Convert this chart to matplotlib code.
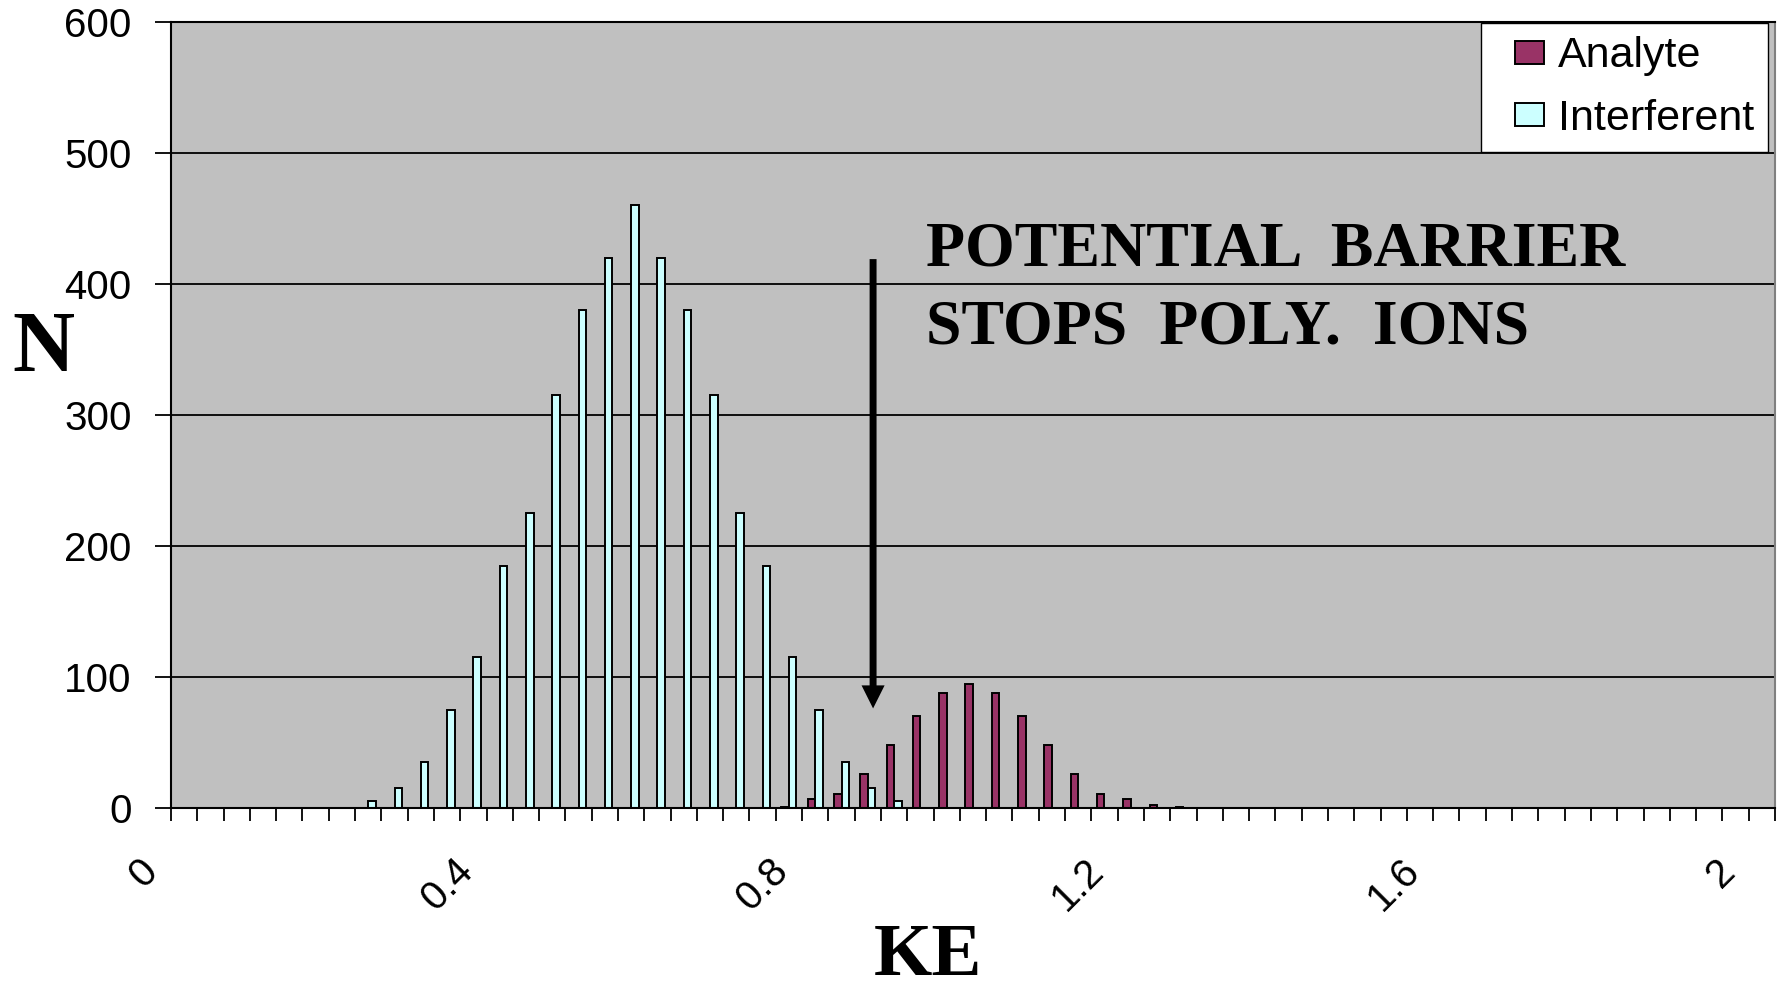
import numpy as np
import matplotlib
matplotlib.use('Agg')
import matplotlib.pyplot as plt
from matplotlib.patches import Rectangle
from matplotlib.container import BarContainer
from matplotlib.legend_handler import HandlerPatch, update_from_first_child
from matplotlib.transforms import ScaledTranslation

# KE categories (61 bins from 0 to 2)
ke = np.round(np.linspace(0, 2, 61), 4)

analyte = [0, 0, 0, 0, 0, 0, 0, 0, 0, 0,
           0, 0, 0, 0, 0, 0, 0, 0, 0, 0,
           0, 0, 0, 1, 7, 11, 26, 48, 70, 88,
           95, 88, 70, 48, 26, 11, 7, 2, 1, 0,
           0, 0, 0, 0, 0, 0, 0, 0, 0, 0,
           0, 0, 0, 0, 0, 0, 0, 0, 0, 0,
           0]
interferent = [0, 0, 0, 0, 0, 0, 0, 5, 15, 35,
               75, 115, 185, 225, 315, 380, 420, 460, 420, 380,
               315, 225, 185, 115, 75, 35, 15, 5, 0, 0,
               0, 0, 0, 0, 0, 0, 0, 0, 0, 0,
               0, 0, 0, 0, 0, 0, 0, 0, 0, 0,
               0, 0, 0, 0, 0, 0, 0, 0, 0, 0,
               0]
label_idx = [0, 12, 24, 36, 48, 60]
label_txt = ['0', '0.4', '0.8', '1.2', '1.6', '2']
y_ticks = [0, 100, 200, 300, 400, 500, 600]

plt.rcParams['font.family'] = 'Liberation Sans'

W, H = 1785, 990
fig = plt.figure(figsize=(W / 100, H / 100), dpi=100)
fig.patch.set_facecolor('white')
ax = fig.add_axes([171 / W, 1 - 808 / H, (1775 - 171) / W, (808 - 22) / H])
ax.set_facecolor('#C0C0C0')

x = np.arange(len(ke))
bw = 0.286
bars_a = ax.bar(x - bw / 2, analyte, bw, color='#993366', edgecolor='black', linewidth=1.4, label='Analyte')
bars_i = ax.bar(x + bw / 2, interferent, bw, color='#CCFFFF', edgecolor='black', linewidth=1.4, label='Interferent')

ax.set_xlim(-0.5, len(ke) - 0.5)
ax.set_ylim(0, 600)
ax.set_yticks(y_ticks)
ax.yaxis.grid(True, color='black', linewidth=1.3)
ax.set_axisbelow(True)

# category boundary ticks + rotated labels
ax.set_xticks(np.arange(-0.5, len(ke)), minor=True)
ax.set_xticks(label_idx, labels=label_txt)
ax.tick_params(axis='x', which='minor', length=9.6, width=1.3, color='black')
ax.tick_params(axis='x', which='major', length=0, pad=41, labelsize=29)
ax.tick_params(axis='y', length=11.3, width=1.3, pad=17, labelsize=29)
shift = ScaledTranslation(-0.33, 0, fig.dpi_scale_trans)
for lab in ax.get_xticklabels():
    lab.set_rotation(45)
    lab.set_ha('right')
    lab.set_va('center')
    lab.set_rotation_mode('anchor')
    lab.set_transform(lab.get_transform() + shift)

for side in ['left', 'bottom', 'top']:
    ax.spines[side].set_color('black')
    ax.spines[side].set_linewidth(1.5)
ax.spines['right'].set_color('#808080')
ax.spines['right'].set_linewidth(1.5)

# axis titles
ax.set_ylabel('N', rotation=0, fontfamily='Liberation Serif', fontweight='bold', fontsize=62,
              va='baseline', ha='center')
ax.yaxis.set_label_coords(43 / W, 1 - 370.7 / H, transform=fig.transFigure)
ax.set_xlabel('KE', fontfamily='Liberation Serif', fontweight='bold', fontsize=54,
              va='baseline', ha='center')
ax.xaxis.set_label_coords(928 / W, 1 - 975 / H, transform=fig.transFigure)

# legend
def legend_box(legend, orig_handle, xdescent, ydescent, width, height, fontsize):
    w, h = 0.68 * fontsize, 0.535 * fontsize
    return Rectangle((-xdescent + width - w, -ydescent + (height - h) / 2), w, h)

leg = ax.legend(loc='upper right', bbox_to_anchor=(1768 / W, 1 - 22.7 / H), bbox_transform=fig.transFigure,
                fontsize=31, borderaxespad=0, borderpad=0.315, labelspacing=0.52,
                handlelength=1.154, handleheight=0.7, handletextpad=0.33,
                fancybox=False, framealpha=1, edgecolor='black',
                handler_map={BarContainer: HandlerPatch(patch_func=legend_box,
                                                        update_func=update_from_first_child)})
leg.get_frame().set_linewidth(1.0)

# potential barrier annotation
ax.annotate('', xy=(26.2, 76), xytext=(26.2, 419),
            arrowprops=dict(arrowstyle='simple,head_length=0.83,head_width=0.83,tail_width=0.25',
                            mutation_scale=20, fc='black', ec='none', lw=0, shrinkA=0, shrinkB=0))
fig.text(926 / W, 1 - 266 / H, 'POTENTIAL  BARRIER', fontfamily='Liberation Serif', fontweight='bold',
         fontsize=46, ha='left', va='baseline')
fig.text(926 / W, 1 - 343 / H, 'STOPS  POLY.  IONS', fontfamily='Liberation Serif', fontweight='bold',
         fontsize=46, ha='left', va='baseline')

fig.savefig('out.png', dpi=100, facecolor='white')
